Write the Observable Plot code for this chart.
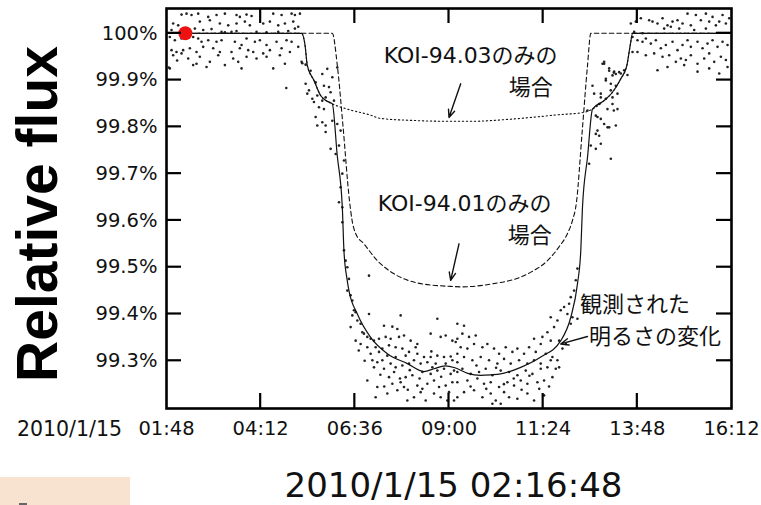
<!DOCTYPE html>
<html><head><meta charset="utf-8">
<script src="https://cdn.jsdelivr.net/npm/d3@7"></script>
<script src="https://cdn.jsdelivr.net/npm/@observablehq/plot@0.6"></script>
<style>body{margin:0;background:#fff;} #chart{width:761px;height:505px;}</style>
</head><body><div id="chart"></div>
<script>
// ---- axis ticks ----
const xTicks = [1.8, 4.2, 6.6, 9.0, 11.4, 13.8, 16.2];
const xTickLabels = ["01:48", "04:12", "06:36", "09:00", "11:24", "13:48", "16:12"];
const dateLabel = "2010/1/15";
const yTicks = [99.3, 99.4, 99.5, 99.6, 99.7, 99.8, 99.9, 100.0];
const yTickLabels = ["99.3%", "99.4%", "99.5%", "99.6%", "99.7%", "99.8%", "99.9%", "100%"];
const yTitle = "Relative flux";
const currentTime = "2010/1/15 02:16:48";
const currentPoint = [[2.28, 100.0]];

// ---- model curves [hours, flux %] ----
const observedModel = [[1.8,100.0],[5.243,100.0],[5.33,99.975],[5.389,99.931],[5.56,99.899],[5.728,99.867],[5.87,99.856],[6.026,99.849],[6.15,99.74],[6.281,99.628],[6.322,99.536],[6.40,99.475],[6.45,99.45],[6.664,99.40],[7.003,99.35],[7.429,99.315],[7.939,99.294],[8.362,99.277],[8.618,99.283],[8.9,99.289],[9.15,99.285],[9.477,99.273],[9.809,99.269],[10.064,99.270],[10.319,99.272],[10.829,99.286],[11.339,99.308],[11.849,99.343],[12.104,99.393],[12.275,99.465],[12.359,99.536],[12.402,99.628],[12.53,99.735],[12.657,99.838],[12.95,99.856],[13.167,99.874],[13.379,99.903],[13.532,99.931],[13.62,99.975],[13.678,100.0],[16.2,100.0]];
const koi9401Only = [[1.8,100.0],[6.026,100.0],[6.154,99.931],[6.30,99.80],[6.46,99.645],[6.53,99.600],[6.62,99.572],[6.832,99.550],[7.174,99.514],[7.597,99.486],[8.278,99.465],[9.043,99.459],[9.324,99.458],[10.14,99.465],[10.8,99.478],[11.1,99.49],[11.51,99.514],[11.8,99.543],[12.02,99.572],[12.14,99.598],[12.25,99.640],[12.39,99.785],[12.53,99.931],[12.614,100.0],[16.2,100.0]];
const koi9403Only = [[1.8,100.0],[5.243,100.0],[5.33,99.975],[5.389,99.931],[5.56,99.899],[5.728,99.867],[5.87,99.856],[6.026,99.849],[6.365,99.839],[7.003,99.825],[7.258,99.818],[8.0,99.814],[8.959,99.812],[9.6,99.812],[10.658,99.817],[11.8,99.826],[12.443,99.831],[12.657,99.838],[12.95,99.856],[13.167,99.874],[13.379,99.903],[13.532,99.931],[13.62,99.975],[13.678,100.0],[16.2,100.0]];

// ---- observed photometry [hours, flux %] ----
const obsBefore = [[2.183,100.040],[2.31,100.042],[2.438,100.039],[2.608,100.042],[2.863,100.035],[3.075,100.039],[3.288,100.042],[3.585,100.039],[3.67,100.035],[3.84,100.040],[3.968,100.037],[4.52,100.042],[4.733,100.039],[4.988,100.042],[5.073,100.039],[5.2,100.042],[1.97,100.021],[2.098,100.017],[2.65,100.025],[2.905,100.028],[3.16,100.021],[3.373,100.017],[3.585,100.021],[3.798,100.025],[3.925,100.017],[4.265,100.021],[4.435,100.025],[4.648,100.017],[4.818,100.021],[5.03,100.025],[5.158,100.014],[1.928,100.007],[2.523,100.010],[2.735,100.007],[2.948,100.009],[3.203,100.003],[3.288,100.002],[3.458,100.003],[3.585,100.005],[4.095,100.003],[4.35,100.002],[4.648,100.003],[4.903,100.005],[5.073,100.010],[1.885,99.992],[2.013,99.985],[2.183,99.989],[2.48,99.992],[2.608,99.989],[2.693,99.982],[2.863,99.985],[3.075,99.982],[3.203,99.985],[3.543,99.982],[3.713,99.975],[3.84,99.989],[4.053,99.982],[4.18,99.985],[4.35,99.975],[4.605,99.982],[4.86,99.985],[4.988,99.982],[1.928,99.964],[2.055,99.960],[2.225,99.964],[2.395,99.968],[2.565,99.960],[2.735,99.971],[2.99,99.968],[3.16,99.960],[3.458,99.960],[3.67,99.968],[3.883,99.964],[4.01,99.960],[4.265,99.957],[4.435,99.964],[4.733,99.968],[4.945,99.960],[5.158,99.971],[1.97,99.953],[2.183,99.957],[2.353,99.946],[2.65,99.950],[2.905,99.939],[3.118,99.953],[3.5,99.946],[3.628,99.939],[3.84,99.950],[4.095,99.946],[4.35,99.950],[4.69,99.953],[4.818,99.935],[5.243,99.939],[1.885,99.925],[2.48,99.932],[2.82,99.928],[3.288,99.932],[3.713,99.925],[4.52,99.925],[2.565,99.935],[4.853,99.883],[1.86,99.927],[2.07,99.942]];
const obsIngress = [[5.261,99.936],[5.346,99.933],[5.473,99.920],[5.771,99.913],[5.898,99.924],[6.026,99.906],[6.153,99.927],[5.346,99.892],[5.431,99.878],[5.601,99.895],[5.813,99.888],[5.941,99.885],[5.983,99.874],[5.388,99.871],[5.516,99.860],[5.558,99.853],[5.643,99.867],[5.771,99.856],[5.856,99.863],[5.686,99.842],[5.813,99.838],[6.068,99.856],[5.601,99.821],[5.771,99.810],[5.856,99.803],[5.643,99.803],[5.856,99.789],[6.026,99.813],[6.153,99.806],[5.983,99.753],[6.111,99.742],[6.196,99.760],[6.281,99.700],[6.238,99.671],[6.196,99.639],[6.281,99.628],[6.323,99.728],[6.238,99.792]];
const obsBottomEarly = [[6.281,99.596],[6.323,99.536],[6.366,99.514],[6.408,99.500],[6.451,99.475],[6.408,99.450],[6.493,99.440],[6.536,99.429],[6.578,99.408],[6.536,99.397],[6.621,99.404],[6.663,99.386],[6.748,99.379],[6.493,99.372],[6.791,99.361],[6.833,99.358],[6.918,99.351],[6.748,99.336],[6.621,99.343],[6.961,99.400],[6.961,99.482],[7.768,99.397],[8.703,99.390],[7.343,99.375],[7.556,99.373],[7.683,99.368],[7.003,99.347],[7.088,99.343],[7.216,99.347],[7.386,99.351],[7.513,99.347],[7.726,99.351],[7.853,99.354],[8.023,99.343],[8.193,99.336],[8.533,99.358],[8.788,99.351],[8.916,99.354],[9.086,99.343],[9.213,99.347],[6.918,99.329],[7.131,99.329],[7.301,99.326],[7.471,99.333],[7.641,99.329],[7.811,99.326],[7.981,99.319],[8.193,99.315],[8.363,99.308],[8.533,99.308],[8.703,99.311],[8.873,99.308],[9.043,99.309],[9.213,99.315],[7.003,99.315],[7.216,99.319],[7.428,99.311],[7.641,99.308],[7.896,99.311],[8.151,99.329],[7.046,99.301],[7.173,99.297],[7.301,99.301],[7.513,99.294],[7.641,99.286],[7.811,99.290],[7.981,99.294],[8.108,99.301],[8.278,99.294],[8.448,99.297],[8.576,99.286],[8.703,99.279],[8.873,99.283],[9.043,99.272],[9.213,99.276],[7.088,99.286],[7.343,99.283],[8.321,99.276],[8.533,99.272],[8.661,99.294],[8.916,99.294],[9.086,99.301],[6.918,99.258],[7.173,99.244],[7.471,99.265],[7.556,99.251],[7.768,99.254],[7.896,99.265],[8.066,99.269],[8.193,99.247],[8.321,99.240],[8.448,99.251],[8.618,99.258],[8.746,99.244],[8.916,99.247],[9.086,99.254],[7.131,99.222],[7.428,99.230],[7.683,99.237],[7.938,99.215],[8.108,99.222],[8.278,99.233],[8.406,99.215],[8.618,99.230],[8.788,99.222],[8.958,99.215],[9.213,99.222],[7.853,99.244],[6.70,99.322],[6.85,99.300],[7.25,99.270],[7.60,99.276],[7.75,99.262],[8.00,99.280],[8.25,99.262],[8.55,99.320],[8.80,99.266],[9.00,99.233],[7.35,99.245],[7.95,99.238]];
const obsBottomLate = [[12.273,99.497],[12.231,99.472],[12.188,99.450],[12.103,99.436],[12.061,99.422],[11.933,99.415],[12.018,99.400],[11.848,99.408],[12.146,99.393],[12.273,99.390],[12.103,99.379],[11.763,99.386],[11.593,99.393],[11.678,99.372],[11.508,99.361],[11.381,99.351],[11.976,99.336],[11.891,99.326],[11.806,99.343],[11.593,99.343],[11.338,99.336],[11.168,99.347],[11.041,99.329],[11.211,99.319],[11.466,99.315],[11.636,99.308],[11.763,99.301],[11.806,99.286],[11.721,99.283],[11.593,99.301],[9.213,99.379],[9.383,99.375],[9.341,99.358],[9.511,99.351],[9.171,99.340],[9.681,99.354],[9.638,99.336],[9.468,99.326],[9.298,99.329],[9.851,99.329],[9.978,99.336],[10.148,99.326],[10.276,99.315],[10.446,99.329],[10.616,99.319],[10.743,99.326],[10.913,99.315],[9.808,99.308],[9.596,99.301],[9.383,99.308],[9.213,99.297],[10.021,99.301],[10.233,99.294],[10.403,99.304],[10.573,99.294],[10.786,99.301],[10.998,99.294],[11.168,99.301],[11.338,99.294],[9.128,99.279],[9.341,99.283],[9.553,99.272],[9.766,99.276],[9.936,99.283],[10.106,99.269],[10.318,99.279],[10.531,99.276],[10.743,99.269],[10.956,99.279],[11.126,99.272],[11.338,99.283],[11.508,99.286],[9.213,99.254],[9.468,99.258],[9.723,99.262],[9.893,99.251],[10.063,99.254],[10.276,99.244],[10.488,99.254],[10.658,99.247],[10.828,99.258],[10.998,99.251],[11.253,99.254],[11.423,99.258],[11.636,99.265],[9.383,99.233],[9.638,99.237],[9.851,99.222],[10.063,99.230],[10.191,99.215],[10.403,99.233],[10.531,99.222],[10.743,99.219],[10.998,99.230],[11.168,99.215],[11.423,99.226],[10.106,99.208],[10.318,99.208],[9.128,99.215],[9.70,99.290],[10.20,99.285],[10.65,99.262],[11.05,99.268],[11.55,99.245],[9.95,99.240],[10.85,99.238],[11.30,99.240],[9.55,99.245],[10.40,99.250]];
const obsEgress = [[12.954,99.935],[13.082,99.920],[13.167,99.910],[13.252,99.913],[13.337,99.917],[12.997,99.903],[13.124,99.892],[13.252,99.888],[12.657,99.888],[12.699,99.871],[12.869,99.871],[12.997,99.860],[13.167,99.863],[13.294,99.871],[12.827,99.849],[13.039,99.838],[13.167,99.849],[13.294,99.838],[12.742,99.824],[12.869,99.817],[12.954,99.806],[13.082,99.799],[13.252,99.803],[12.784,99.792],[12.827,99.781],[12.614,99.760],[12.742,99.753],[13.124,99.732],[12.572,99.721],[12.529,99.835],[12.913,99.935],[13.201,99.916],[12.997,99.899],[13.124,99.878],[12.869,99.863],[13.201,99.835],[12.785,99.821],[13.040,99.799],[12.742,99.785],[12.869,99.764]];
const obsAfter = [[13.634,100.021],[13.762,100.025],[13.889,100.032],[14.102,100.028],[14.187,100.025],[14.314,100.021],[14.442,100.032],[14.569,100.017],[14.697,100.025],[14.824,100.028],[14.952,100.021],[15.079,100.042],[15.164,100.017],[15.292,100.039],[15.419,100.028],[15.547,100.042],[15.632,100.025],[15.717,100.035],[15.802,100.017],[15.887,100.025],[15.972,100.039],[16.057,100.021],[16.142,100.032],[14.484,100.010],[14.654,100.014],[14.867,100.010],[15.249,100.007],[15.547,100.010],[13.719,100.003],[13.932,100.0],[13.677,99.992],[13.804,99.985],[13.932,99.982],[14.017,99.989],[14.144,99.978],[14.272,99.985],[14.399,99.968],[14.527,99.975],[14.697,99.982],[14.824,99.964],[14.952,99.975],[15.079,99.985],[15.164,99.971],[15.334,99.982],[15.462,99.968],[15.589,99.978],[15.717,99.985],[15.844,99.971],[15.972,99.982],[16.099,99.975],[13.804,99.960],[14.017,99.953],[14.229,99.957],[14.442,99.950],[14.612,99.953],[14.782,99.939],[14.909,99.946],[15.037,99.943],[15.164,99.953],[15.334,99.935],[15.504,99.946],[15.632,99.957],[15.759,99.939],[15.929,99.950],[16.057,99.943],[14.314,99.921],[14.569,99.928],[14.994,99.932],[15.334,99.918],[15.632,99.925],[15.887,99.914],[16.099,99.928],[12.954,99.939],[13.082,99.925],[13.209,99.918],[13.379,99.914],[13.464,99.921],[13.549,99.911],[13.677,99.960]];

// ---- annotations ----
const annotationText = [
  [7.335, 99.951, "KOI-94.03のみの"], [10.523, 99.884, "場合"],
  [7.182, 99.635, "KOI-94.01のみの"], [10.497, 99.566, "場合"],
  [12.341, 99.419, "観測された"], [12.571, 99.351, "明るさの変化"]
];
const annotationArrows = [
  [9.298, 99.892, 9.0, 99.820],
  [9.255, 99.550, 9.043, 99.472],
  [12.530, 99.352, 11.849, 99.336]
];

const pts = a => a.map(([t, f]) => ({t, f}));
const observed = pts([...obsBefore, ...obsIngress, ...obsBottomEarly, ...obsBottomLate, ...obsEgress, ...obsAfter]);
const xLab = new Map(xTicks.map((v, i) => [v, xTickLabels[i]]));
const yLab = new Map(yTicks.map((v, i) => [v, yTickLabels[i]]));

const chart = Plot.plot({
  width: 761, height: 505,
  marginLeft: 166, marginRight: 30, marginTop: 8, marginBottom: 97,
  x: {domain: [1.8, 16.2]},
  y: {domain: [99.198, 100.053]},
  style: {fontFamily: "DejaVu Sans", fontSize: "19.5px", color: "#111", background: "white", overflow: "visible"},
  marks: [
    Plot.dot(observed, {x: "t", y: "f", r: 1.3, fill: "#222", stroke: null}),
    Plot.line(pts(koi9403Only), {x: "t", y: "f", stroke: "#111", strokeWidth: 1.1, strokeDasharray: "1.3,2.7", curve: "monotone-x"}),
    Plot.line(pts(koi9401Only), {x: "t", y: "f", stroke: "#111", strokeWidth: 1.1, strokeDasharray: "4.5,3", curve: "monotone-x"}),
    Plot.line(pts(observedModel), {x: "t", y: "f", stroke: "#111", strokeWidth: 1.2, curve: "monotone-x"}),
    Plot.arrow(annotationArrows, {x1: d => d[0], y1: d => d[1], x2: d => d[2], y2: d => d[3], stroke: "#111", strokeWidth: 1.4, headLength: 9, headAngle: 45}),
    Plot.text(annotationText, {x: d => d[0], y: d => d[1], text: d => d[2], textAnchor: "start", lineAnchor: "middle", fontFamily: "'DejaVu Sans', 'Noto Sans CJK JP'", fontSize: 22, fill: "#111"}),
    Plot.dot(pts(currentPoint), {x: "t", y: "f", r: 7, fill: "#ee1111", stroke: null}),
    Plot.axisX({ticks: xTicks, tickSize: 0, tickPadding: 13, tickFormat: d => xLab.get(d), label: null}),
    Plot.axisY({ticks: yTicks, tickSize: 0, tickPadding: 9, tickFormat: d => yLab.get(d), label: null}),
    Plot.frame({stroke: "#000", strokeWidth: 2.6})
  ]
});

const X = chart.scale("x"), Y = chart.scale("y");
const [L, R] = X.range, [B, T] = Y.range;
const svg = d3.select(chart);
const g = svg.append("g").attr("stroke", "#000").attr("stroke-width", 2.2);
for (const v of xTicks.slice(1, -1)) {
  const px = X.apply(v);
  g.append("line").attr("x1", px).attr("x2", px).attr("y1", B).attr("y2", B - 15);
  g.append("line").attr("x1", px).attr("x2", px).attr("y1", T).attr("y2", T + 15);
}
for (const v of yTicks) {
  const py = Y.apply(v);
  g.append("line").attr("y1", py).attr("y2", py).attr("x1", L).attr("x2", L + 15);
  g.append("line").attr("y1", py).attr("y2", py).attr("x1", R).attr("x2", R - 15);
}
svg.append("text").attr("x", X.apply(xTicks[0]) - 44).attr("y", B + 13).attr("dy", "0.71em")
  .attr("text-anchor", "end").attr("fill", "#111").style("font", "20.5px 'DejaVu Sans'").text(dateLabel);
svg.append("text").attr("transform", `translate(56.5,${(B + T) / 2 + 6}) rotate(-90)`)
  .attr("text-anchor", "middle").attr("fill", "#000").style("font", "bold 57px 'Liberation Sans'").text(yTitle);
svg.append("rect").attr("x", 0).attr("y", 477).attr("width", 130).attr("height", 28).attr("fill", "#f7e3cf");
svg.append("rect").attr("x", 19).attr("y", 503).attr("width", 8).attr("height", 2).attr("fill", "#666");
svg.append("text").attr("x", 453.5).attr("y", 497).attr("text-anchor", "middle").attr("fill", "#111")
  .style("font", "34px 'DejaVu Sans'").text(currentTime);

document.getElementById("chart").appendChild(chart);
</script>
</body></html>
